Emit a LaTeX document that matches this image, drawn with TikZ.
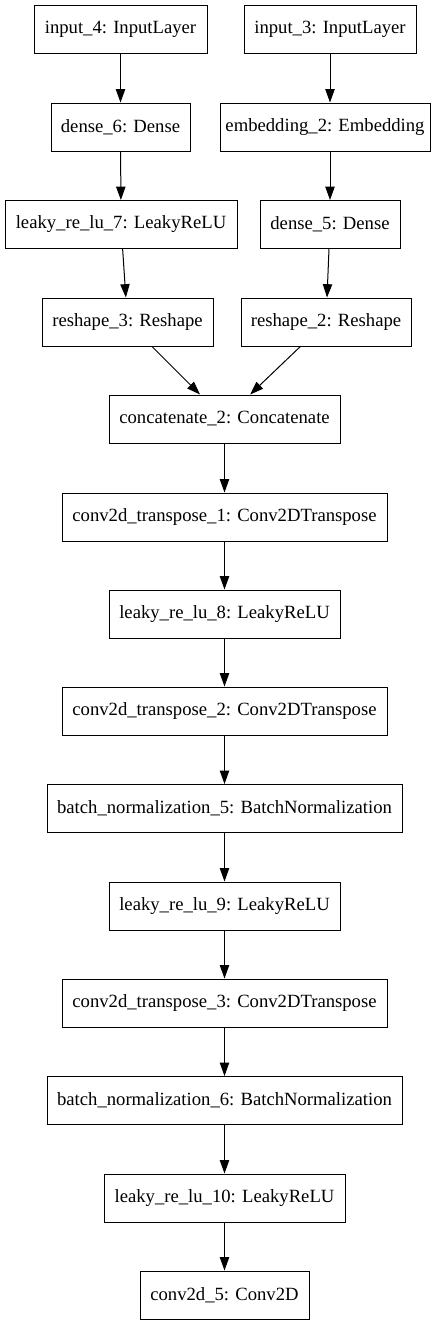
\documentclass[tikz,border=0pt]{standalone}
\usepackage{fontspec}
\setmainfont{Liberation Serif}
\usetikzlibrary{arrows.meta}
\begin{document}
\begin{tikzpicture}[x=0.75pt,y=-0.75pt,
  layer/.style={draw=black,line width=0.75pt,rectangle,inner sep=0pt,
    minimum height=36pt,font=\fontsize{14pt}{16pt}\selectfont},
  w/.style={minimum width=#1*0.75pt},
  conn/.style={line width=0.75pt,-{Triangle[length=10pt,width=7pt]}}]
\useasboundingbox (0,0) rectangle (445,1325);
\node[layer,w=173] (in4) at (120.5,29) {input\_4: InputLayer};
\node[layer,w=172] (in3) at (330,29) {input\_3: InputLayer};
\node[layer,w=139] (d6) at (120.5,127) {dense\_6: Dense};
\node[layer,w=210] (emb) at (325,127) {embedding\_2: Embedding};
\node[layer,w=232] (lr7) at (121,224.5) {leaky\_re\_lu\_7: LeakyReLU};
\node[layer,w=140] (d5) at (330,224.5) {dense\_5: Dense};
\node[layer,w=171] (rs3) at (127.5,322) {reshape\_3: Reshape};
\node[layer,w=170] (rs2) at (326,322) {reshape\_2: Reshape};
\node[layer,w=231] (cat) at (224.5,419) {concatenate\_2: Concatenate};
\node[layer,w=325] (ct1) at (224.5,517) {conv2d\_transpose\_1: Conv2DTranspose};
\node[layer,w=231] (lr8) at (224.5,614) {leaky\_re\_lu\_8: LeakyReLU};
\node[layer,w=325] (ct2) at (224.5,711) {conv2d\_transpose\_2: Conv2DTranspose};
\node[layer,w=355] (bn5) at (224.5,808.5) {batch\_normalization\_5: BatchNormalization};
\node[layer,w=231] (lr9) at (224.5,906) {leaky\_re\_lu\_9: LeakyReLU};
\node[layer,w=325] (ct3) at (224.5,1003) {conv2d\_transpose\_3: Conv2DTranspose};
\node[layer,w=355] (bn6) at (224.5,1100.5) {batch\_normalization\_6: BatchNormalization};
\node[layer,w=241] (lr10) at (224.5,1198) {leaky\_re\_lu\_10: LeakyReLU};
\node[layer,w=169] (c5) at (224.5,1295) {conv2d\_5: Conv2D};
\draw[conn] (in4) -- (d6);
\draw[conn] (in3) -- (emb.north -| in3);
\draw[conn] (d6) -- (lr7);
\draw[conn] (emb.south -| d5) -- (d5);
\draw[conn] (lr7) -- (rs3);
\draw[conn] (d5) -- (rs2);
\draw[conn] (rs3) -- (cat);
\draw[conn] (rs2) -- (cat);
\draw[conn] (cat) -- (ct1);
\draw[conn] (ct1) -- (lr8);
\draw[conn] (lr8) -- (ct2);
\draw[conn] (ct2) -- (bn5);
\draw[conn] (bn5) -- (lr9);
\draw[conn] (lr9) -- (ct3);
\draw[conn] (ct3) -- (bn6);
\draw[conn] (bn6) -- (lr10);
\draw[conn] (lr10) -- (c5);
\end{tikzpicture}
\end{document}
